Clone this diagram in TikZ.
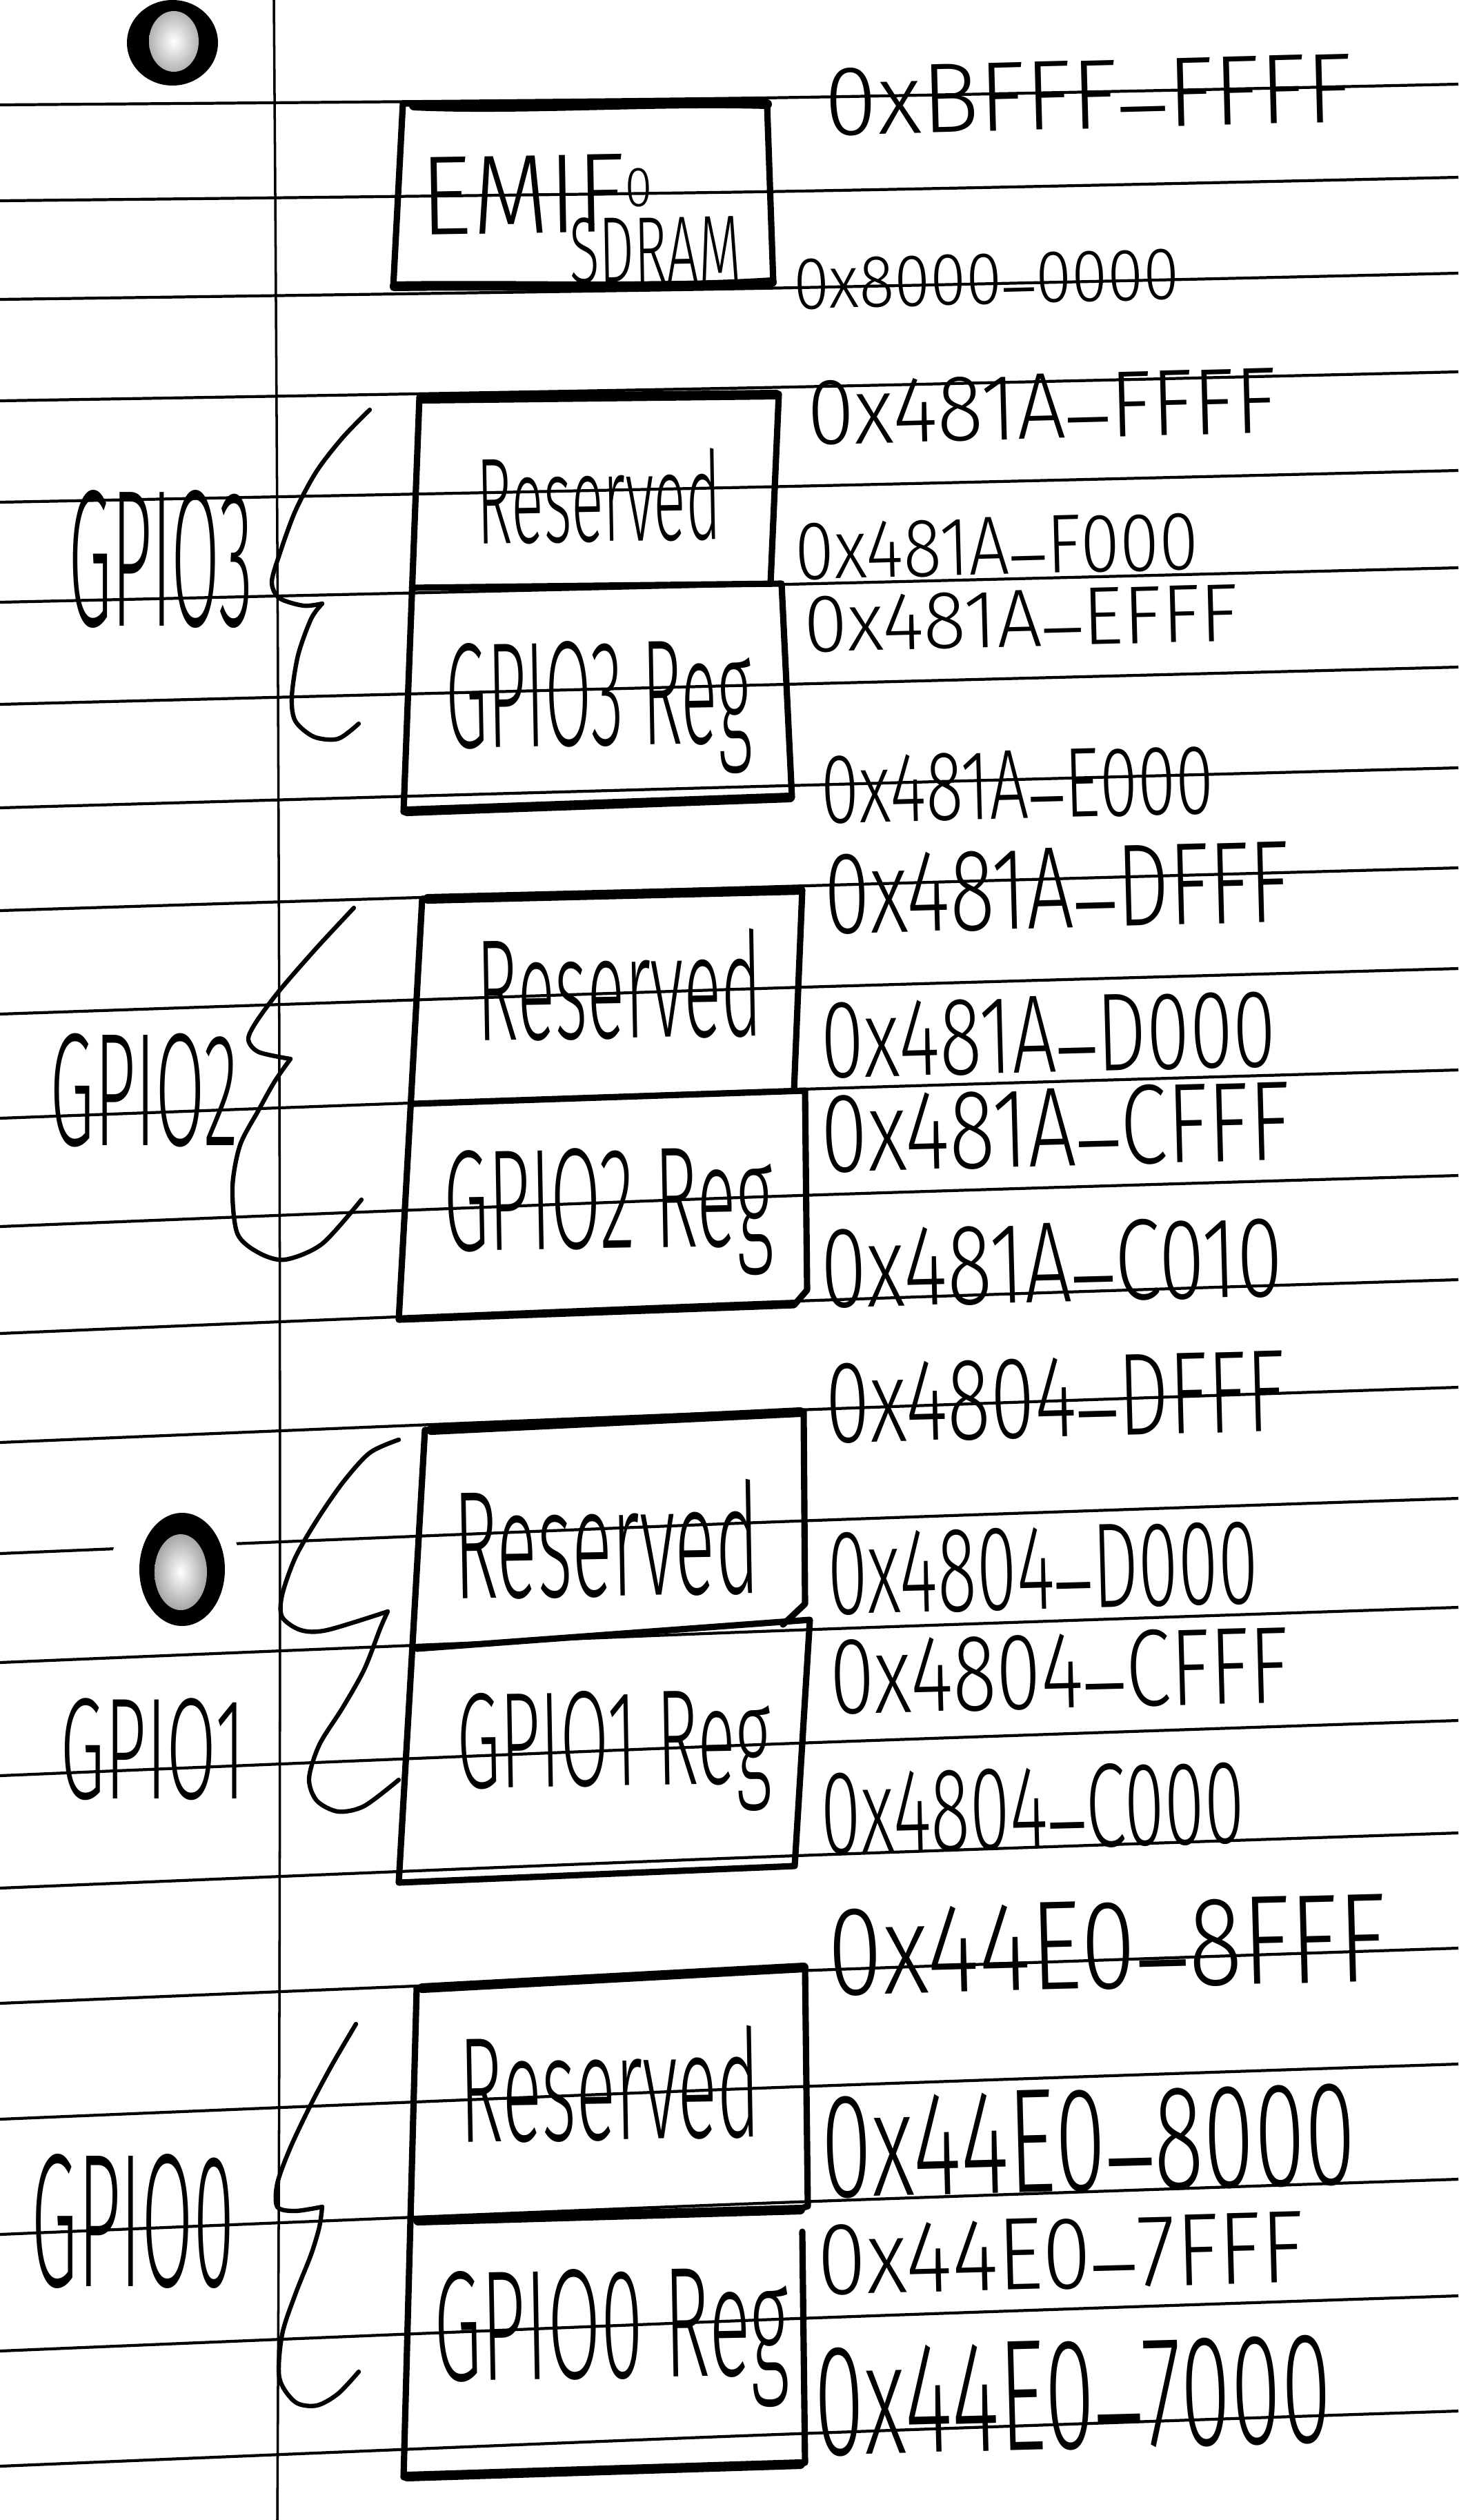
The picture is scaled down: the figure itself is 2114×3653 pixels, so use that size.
\documentclass[tikz,border=0pt]{standalone}
\usepackage{fontspec}
\usepackage{graphicx}
\IfFontExistsTF{Fira Sans Light}{\newfontfamily\hand{Fira Sans Light}}{\newfontfamily\hand{Liberation Sans}}
\newlength\pxu
\setlength\pxu{0.01cm}
\newcommand\fitto[3]{\resizebox*{#1\pxu}{#2\pxu}{\hand #3}}
\newcommand\us{\raisebox{0.28em}{\_}}
\begin{document}
\begin{tikzpicture}[x=0.01cm,y=-0.01cm,
  rule/.style={line width=1.2pt},
  marginline/.style={line width=1pt},
  bx/.style={line width=2.6pt,line join=round,line cap=round},
  hv/.style={line width=4pt,line cap=round},
  br/.style={line width=1.8pt,line cap=round,line join=round},
  txt/.style={inner sep=0pt,outer sep=0pt},
  addr/.style={txt,rotate=1.5},
  lbl/.style={txt,rotate=1}]
\useasboundingbox (0,0) rectangle (2114,3653);
\fill[white] (0,0) rectangle (2114,3653);
% ruled lines
\foreach \yy [count=\ii from 0] in {152,291,434,581,728,873,1021,1171,1320,1470,1621,1778,1933,2091,2252,2410,2574,2737,2904,3072,3239,3408,3575}{
  \pgfmathsetmacro\ra{min(10+3*\ii,45)}
  \pgfmathsetmacro\rb{min(30+4*\ii,80)}
  \draw[rule] plot[smooth] coordinates {(0,\yy) (1100,\yy-\ra) (2114,\yy-\rb)};
}
% margin line
\draw[marginline] (397,0) .. controls (406,1200) and (409,2400) .. (402,3653);
% punched holes
\fill[black] (250,62) ellipse [x radius=66, y radius=62];
\shade[inner color=white, outer color=gray!60] (252,60) ellipse [x radius=36, y radius=44];
\fill[white] (255,2275) ellipse [x radius=95, y radius=98];
\fill[black] (264,2275) ellipse [x radius=62, y radius=82];
\shade[inner color=white, outer color=gray!70] (262,2279) ellipse [x radius=38, y radius=55];
% EMIF box
\draw[bx] (584,150) -- (1112,152) -- (1121,410) -- (570,417) -- cycle;
\draw[hv] (600,153) .. controls (750,160) and (950,146) .. (1112,151);
\draw[hv] (572,415) .. controls (750,412) and (950,420) .. (1119,409);
% GPIO3 boxes
\draw[bx] (608,576) -- (1129,571) -- (1117,846);
\draw[bx] (597,852) -- (1133,846) -- (1148,1156) -- (585,1177) -- (608,576);
\draw[hv] (612,578) -- (1125,572);
\draw[hv] (590,1176) -- (1145,1156);
% GPIO2 boxes
\draw[bx] (612,1303) -- (1163,1290) -- (1151,1581);
\draw[bx] (600,1600) -- (1167,1581) -- (1170,1870) -- (1151,1892) -- (578,1913) -- (612,1303);
\draw[hv] (620,1303) -- (1160,1290);
% GPIO1 boxes
\draw[bx] (616,2073) -- (1165,2046) -- (1167,2325) -- (1135,2355);
\draw[bx] (604,2390) -- (1174,2348) -- (1152,2705) -- (578,2729) -- (616,2073);
\draw[hv] (625,2073) -- (1160,2047);
% GPIO0 boxes
\draw[bx] (604,2882) -- (1167,2851) -- (1171,3198) -- (1150,3205);
\draw[bx] (604,3219) -- (1150,3205);
\draw[bx] (1163,3235) -- (1167,3570) -- (585,3591) -- (604,2882);
\draw[hv] (612,2882) -- (1165,2852);
\draw[hv] (606,3219) -- (1160,3203);
\draw[hv] (590,3590) -- (1160,3572);
% braces
\draw[br] plot[smooth] coordinates {(536,594) (497,634) (459,683) (428,741) (405,804) (394,844) (405,867) (440,878) (467,875)};
\draw[br] plot[smooth] coordinates {(467,875) (451,897) (432,950) (423,1010) (428,1045) (455,1068) (490,1071) (520,1049)};
\draw[br] plot[smooth] coordinates {(513,1316) (459,1374) (405,1436) (371,1482) (360,1507) (375,1525) (421,1535)};
\draw[br] plot[smooth] coordinates {(421,1535) (398,1568) (375,1609) (348,1660) (337,1721) (344,1788) (375,1816) (413,1826) (467,1803) (524,1739)};
\draw[br] plot[smooth] coordinates {(578,2087) (536,2106) (497,2149) (459,2204) (428,2258) (409,2312) (409,2344) (436,2363) (474,2363) (562,2336)};
\draw[br] plot[smooth] coordinates {(562,2336) (551,2361) (528,2420) (497,2475) (463,2529) (448,2578) (459,2610) (490,2626) (528,2618) (578,2580)};
\draw[br] plot[smooth] coordinates {(516,2934) (482,2992) (451,3050) (421,3113) (402,3165) (402,3199) (428,3205) (467,3199)};
\draw[br] plot[smooth] coordinates {(467,3199) (463,3228) (451,3268) (428,3326) (409,3384) (405,3447) (428,3482) (459,3487) (490,3470) (520,3438)};
% EMIF texts
\node[addr] (bf) at (1578,138) {\fitto{765}{100}{0xBFFF\us FFFF}};
\node[addr] (e8) at (1430,405) {\fitto{560}{74}{0x8000\us 0000}};
\node[lbl] (emif) at (778,282) {\fitto{336}{112}{EMIF\raisebox{0.22em}{\scalebox{0.5}{0}}}};
\node[lbl] (sdram) at (950,362) {\fitto{249}{96}{SDRAM}};
% GPIO3
\node[txt] (g3) at (233,811) {\fitto{267}{200}{GPIO3}};
\node[lbl] (r3) at (868,720) {\fitto{353}{134}{Reserved}};
\node[lbl] (g3r) at (868,1027) {\fitto{443}{196}{GPIO3 Reg}};
\node[addr] (a3a) at (1510,590) {\fitto{680}{95}{0x481A\us FFFF}};
\node[addr] (a3b) at (1445,792) {\fitto{585}{84}{0x481A\us F000}};
\node[addr] (a3c) at (1480,897) {\fitto{630}{83}{0x481A\us EFFF}};
\node[addr] (a3d) at (1475,1138) {\fitto{570}{100}{0x481A\us E000}};
% GPIO2
\node[txt] (g2) at (209,1580) {\fitto{272}{165}{GPIO2}};
\node[lbl] (r2) at (898,1428) {\fitto{413}{158}{Reserved}};
\node[lbl] (g2r) at (882,1758) {\fitto{477}{188}{GPIO2 Reg}};
\node[addr] (a2a) at (1532,1288) {\fitto{675}{118}{0x481A\us DFFF}};
\node[addr] (a2b) at (1520,1500) {\fitto{660}{112}{0x481A\us D000}};
\node[addr] (a2c) at (1530,1634) {\fitto{680}{116}{0x481A\us CFFF}};
\node[addr] (a2d) at (1525,1830) {\fitto{670}{118}{0x481A\us C010}};
% GPIO1
\node[txt] (g1) at (222,2536) {\fitto{268}{148}{GPIO1}};
\node[lbl] (r1) at (879,2232) {\fitto{442}{168}{Reserved}};
\node[lbl] (g1r) at (890,2540) {\fitto{455}{178}{GPIO1 Reg}};
\node[addr] (a1a) at (1530,2026) {\fitto{666}{118}{0x4804\us DFFF}};
\node[addr] (a1b) at (1512,2273) {\fitto{625}{122}{0x4804\us D000}};
\node[addr] (a1c) at (1535,2422) {\fitto{665}{112}{0x4804\us CFFF}};
\node[addr] (a1d) at (1497,2620) {\fitto{615}{122}{0x4804\us C000}};
% GPIO0
\node[txt] (g0) at (193,3220) {\fitto{294}{195}{GPIO0}};
\node[lbl] (r0) at (884,3022) {\fitto{436}{164}{Reserved}};
\node[lbl] (g0r) at (887,3391) {\fitto{514}{205}{GPIO0 Reg}};
\node[addr] (a0a) at (1605,2820) {\fitto{810}{128}{0x44E0\us 8FFF}};
\node[addr] (a0b) at (1578,3103) {\fitto{775}{150}{0x44E0\us 8000}};
\node[addr] (a0c) at (1538,3267) {\fitto{705}{104}{0x44E0\us 7FFF}};
\node[addr] (a0d) at (1555,3472) {\fitto{750}{160}{0x44E0\us 7000}};
\end{tikzpicture}
\end{document}
